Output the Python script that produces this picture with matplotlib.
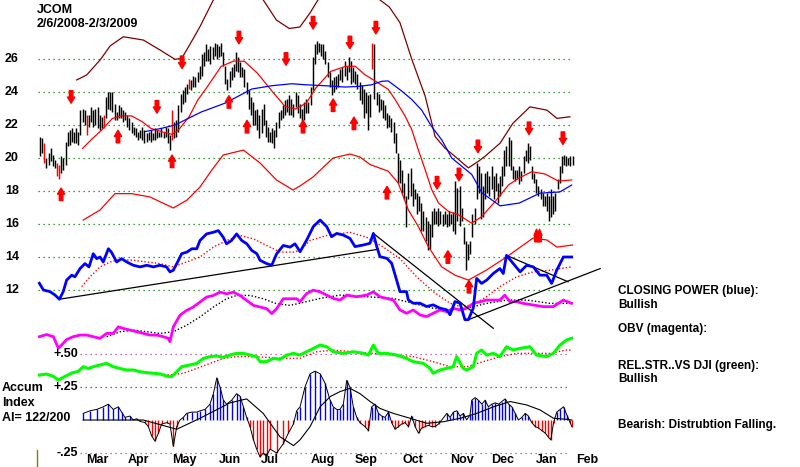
import numpy as np
import matplotlib
matplotlib.use("Agg")
import matplotlib.pyplot as plt
from matplotlib.transforms import blended_transform_factory
from matplotlib.lines import Line2D

# ---- daily price bars (trading day index 0 = 2/6/2008) ----
bar_high = [21.3, 21.2, 20.9, 20.0, 20.3, 20.6, 20.2, 19.9, 19.7, 19.6,
            20.1, 20.0, 21.0, 21.6, 21.7, 21.8, 21.6, 21.8, 21.6, 22.9,
            23.0, 22.9, 22.6, 22.6, 23.1, 22.9, 23.0, 23.1, 22.6, 22.5,
            22.6, 23.7, 24.0, 24.0, 24.0, 23.3, 22.8, 23.2, 23.1, 22.9,
            22.8, 22.6, 22.4, 22.2, 21.9, 21.8, 21.6, 21.7, 21.9, 21.7,
            21.5, 21.6, 21.7, 21.5, 21.8, 21.7, 21.6, 21.8, 21.6, 21.9,
            21.8, 21.4, 22.9, 22.2, 22.3, 23.2, 23.9, 24.1, 24.3, 24.5,
            24.8, 24.7, 25.0, 24.9, 25.2, 25.6, 26.3, 26.4, 26.9, 26.6,
            26.8, 26.7, 27.0, 26.9, 26.8, 27.0, 26.4, 25.6, 24.8, 25.3,
            25.5, 25.7, 26.4, 26.1, 25.8, 25.5, 25.4, 24.6, 24.1, 23.7,
            23.4, 22.9, 23.0, 22.6, 23.0, 23.3, 22.3, 21.9, 21.6, 21.8,
            21.7, 22.2, 22.8, 22.9, 23.2, 23.5, 23.6, 23.8, 23.6, 23.3,
            24.0, 23.8, 23.3, 23.0, 23.4, 23.6, 23.4, 24.3, 26.1, 26.9,
            27.1, 27.0, 26.9, 26.9, 26.5, 25.8, 25.2, 24.7, 24.9, 25.0,
            25.1, 25.4, 25.5, 25.9, 25.6, 26.1, 25.9, 25.5, 25.3, 25.1,
            24.6, 24.4, 24.2, 24.0, 23.8, 23.9, 27.0, 26.9, 24.0, 23.9,
            23.6, 23.5, 23.2, 22.7, 22.6, 22.4, 22.2, 21.5, 20.3, 19.9,
            19.3, 18.5, 17.7, 19.1, 19.4, 18.5, 18.1, 17.9, 17.7, 17.3,
            16.8, 16.4, 16.2, 16.0, 16.8, 17.0, 16.8, 17.0, 16.8, 16.6,
            16.8, 16.6, 16.8, 16.6, 16.7, 18.6, 18.2, 18.3, 17.0, 15.8,
            15.0, 14.8, 15.0, 16.6, 17.0, 19.7, 19.5, 19.1, 18.3, 19.1,
            19.2, 18.9, 19.5, 18.9, 19.1, 18.5, 18.9, 19.5, 20.5, 20.7,
            21.3, 21.1, 19.5, 19.3, 19.3, 19.5, 19.2, 20.1, 20.5, 20.9,
            20.7, 19.5, 19.1, 18.7, 18.3, 18.1, 17.9, 17.7, 17.9, 17.7,
            18.1, 17.7, 17.9, 18.7, 19.5, 20.1, 20.2, 20.1, 20.0, 20.1,
            20.1]
bar_low = [20.1, 20.3, 19.7, 19.4, 19.6, 19.8, 19.5, 19.4, 18.9, 18.7,
           19.1, 19.3, 19.6, 20.7, 20.8, 21.0, 20.9, 20.9, 20.8, 21.4,
           22.2, 22.0, 21.4, 21.9, 22.2, 21.9, 22.0, 21.8, 21.7, 21.8,
           21.8, 22.4, 23.0, 22.9, 22.8, 22.3, 22.3, 22.4, 22.4, 22.2,
           22.3, 21.9, 21.7, 21.5, 21.4, 21.3, 21.1, 21.2, 21.1, 20.9,
           21.0, 21.1, 21.0, 21.1, 21.1, 21.2, 21.3, 21.3, 21.2, 21.3,
           20.9, 20.5, 21.1, 21.2, 21.3, 21.6, 22.8, 23.3, 23.4, 23.9,
           24.2, 24.1, 24.3, 24.3, 24.6, 24.8, 25.0, 25.6, 25.9, 25.9,
           25.7, 26.0, 26.2, 26.0, 26.1, 26.2, 25.6, 24.5, 24.1, 24.3,
           24.7, 24.9, 25.3, 25.2, 24.9, 24.9, 24.3, 23.9, 23.0, 22.6,
           22.0, 22.0, 21.7, 21.2, 21.5, 22.0, 21.3, 21.0, 21.0, 20.9,
           20.6, 21.3, 21.8, 22.3, 22.4, 22.6, 22.8, 22.6, 22.6, 22.5,
           23.1, 22.7, 22.4, 22.2, 22.3, 22.7, 22.7, 23.2, 24.1, 25.7,
           26.3, 26.4, 26.2, 26.0, 25.7, 24.9, 24.3, 23.8, 24.0, 24.2,
           24.3, 24.7, 24.6, 25.0, 24.7, 25.2, 24.5, 24.6, 24.5, 24.2,
           23.5, 23.3, 22.4, 22.7, 21.7, 22.5, 25.4, 23.6, 23.2, 22.8,
           22.9, 22.4, 22.3, 21.8, 21.9, 21.6, 20.9, 20.3, 18.5, 18.5,
           17.9, 17.5, 15.8, 17.5, 17.7, 17.1, 17.5, 16.6, 16.8, 15.6,
           15.6, 15.0, 14.4, 14.5, 15.2, 16.0, 16.0, 15.9, 16.0, 15.9,
           16.0, 15.8, 15.9, 16.0, 15.6, 15.4, 16.2, 15.9, 16.2, 14.8,
           13.2, 13.8, 14.2, 15.2, 16.0, 17.5, 17.9, 16.3, 16.4, 17.5,
           17.9, 17.7, 18.1, 17.5, 18.0, 17.3, 17.7, 18.3, 18.9, 19.5,
           19.5, 19.3, 18.7, 18.6, 18.7, 18.4, 18.6, 19.1, 19.8, 19.7,
           19.9, 18.7, 18.5, 17.9, 17.7, 17.5, 17.1, 17.1, 16.8, 16.2,
           16.4, 16.6, 16.8, 18.1, 18.5, 19.1, 19.6, 19.5, 19.6, 19.5,
           19.6]
red_bar_days = [2, 8, 9, 22, 30, 62, 70, 156]

# ---- price overlays: (day, price) ----
upper_band = [(17.2, 24.73), (21.9, 25.03), (28.2, 25.94), (33, 26.8), (39.1, 27.35),
              (48.5, 27.15), (56.3, 26.55), (63.4, 25.98), (66.5, 26.04), (70, 26.8),
              (75.1, 27.96), (81.4, 29.58), (86, 30.6), (95, 31.0), (104.8, 29.58),
              (111, 28.36), (117, 27.85), (122, 27.94), (126.8, 28.8), (130.5, 29.58),
              (135, 30.6), (155, 30.6), (159.6, 29.58), (164, 29.15), (169, 28.2),
              (174.5, 26.0), (180.8, 23.76), (185.5, 21.3), (190.1, 20.6), (194.8, 20.1),
              (201.1, 19.4), (205.8, 19.8), (208.9, 20.1), (216, 20.9), (222, 22.1),
              (230, 23.1), (238, 22.9), (242.7, 22.4), (248.8, 22.5)]
lower_band = [(20.3, 16.24), (28.2, 16.85), (35.2, 17.84), (43, 17.84), (51.6, 17.64),
              (62.6, 16.97), (69, 17.45), (75.1, 18.24), (80.6, 19.26), (86, 20.18),
              (95.5, 20.48), (103.3, 19.7), (111, 18.67), (118.8, 18.06), (122, 18.3),
              (128.2, 18.85), (137.6, 20.0), (145.5, 20.24), (150.2, 20.06), (155, 19.6),
              (163.5, 19.2), (168.2, 18.48), (172.9, 16.86), (177.6, 15.85), (182.3, 14.63),
              (188.5, 13.41), (194.8, 12.9), (201.1, 12.6), (209.5, 13.2), (219, 14.0),
              (231.5, 15.15), (238, 15.03), (242.7, 14.6), (250, 14.73)]
red_ma = [(20, 20.58), (24, 21.1), (29, 21.7), (34, 22.4), (38, 22.55), (43, 22.55),
          (48, 22.2), (52, 21.8), (57, 21.6), (62, 21.43), (65, 21.7), (70, 22.5),
          (74, 23.5), (79, 24.4), (85, 25.55), (91, 25.88), (96, 25.86), (102, 25.15),
          (109, 24.04), (115, 23.13), (120, 22.97), (125, 23.33), (129.5, 24.24),
          (136.5, 25.25), (143.5, 25.56), (148, 25.56), (152.5, 25.05), (157.3, 24.67),
          (163.5, 24.16), (166.7, 23.55), (171.4, 22.54), (174.5, 21.73), (177.6, 20.5),
          (180.8, 19.3), (183.9, 18.08), (187.1, 17.27), (191.8, 16.76), (196.4, 16.56),
          (202.7, 16.05), (207.4, 16.45), (213.6, 17.35), (219.9, 18.36), (224.6, 18.77),
          (230.9, 19.17), (237.1, 19.03), (243.4, 18.6), (249.6, 18.67)]
blue_ma = [(49.3, 21.6), (57.1, 21.8), (63.4, 22.0), (69.6, 22.4), (75.9, 22.8),
           (82.2, 23.1), (87, 23.33), (93, 23.74), (99.4, 24.18), (108.8, 24.38),
           (118.2, 24.5), (124.5, 24.44), (133.9, 24.38), (143.3, 24.3), (149.5, 24.34),
           (155.8, 24.44), (160.4, 24.65), (163.5, 24.67), (169.8, 24.06), (174.5, 23.55),
           (179.2, 22.9), (183.9, 21.9), (188.6, 21.1), (193.3, 20.0), (198, 19.5),
           (202.7, 19.0), (207.4, 17.9), (216, 17.1), (225, 17.27), (234.7, 17.87),
           (244, 17.94), (249.6, 18.36)]

down_arrows = [(14.6, 23.7), (54.9, 23.1), (66.7, 25.8), (93.4, 27.3), (115.5, 26.0),
               (128.2, 28.2), (145.5, 27.0), (157.7, 27.9), (186.4, 18.5), (196.7, 19.0),
               (205.6, 20.7), (229.6, 21.8), (245.5, 21.2)]
up_arrows = [(9.9, 17.8), (36.6, 21.3), (62, 19.8), (88.7, 23.4), (97.2, 21.9),
             (123.5, 21.9), (137.6, 23.2), (147.4, 22.1), (162.9, 17.9), (191.5, 14.0),
             (201.4, 12.2)]
double_up_arrows = [(233.8, 15.3)]

# ---- closing power (blue) and OBV (magenta), drawn on the price scale ----
closing_power = [(-0.3, 12.41), (1.6, 12.0), (4.7, 11.9), (7, 11.7), (9.1, 11.44), (10.9, 11.9),
                 (12.5, 12.6), (14.9, 12.9), (16.4, 12.8), (18.8, 13.3), (21.1, 13.6), (23, 13.4),
                 (25, 14.2), (26.6, 13.9), (28.2, 14.0), (29.7, 13.7), (32.1, 14.5), (33.5, 14.3),
                 (36, 13.7), (38.3, 13.9), (40.7, 13.7), (43.8, 13.5), (47, 13.4), (50.1, 13.5),
                 (53.2, 13.4), (56.3, 13.5), (59.4, 13.4), (61, 13.1), (62.6, 13.2), (65, 13.8),
                 (66.5, 14.2), (69, 14.3), (71.3, 14.5), (73.6, 14.5), (75.1, 15.0), (78.2, 15.4),
                 (81.4, 15.5), (83.7, 15.6), (86, 15.2), (87.6, 14.8), (89.9, 15.0), (92.3, 15.4),
                 (94.7, 15.0), (97.1, 14.8), (99.4, 14.4), (101.8, 14.2), (103.3, 13.8),
                 (106.4, 13.6), (108.8, 13.5), (111.1, 14.2), (114.2, 14.7), (117.4, 14.6),
                 (119.7, 14.8), (122.1, 14.32), (125.2, 15.03), (128.3, 15.84), (131.5, 16.24),
                 (134.6, 15.84), (136.9, 15.23), (139.3, 15.43), (142.4, 15.33), (145.5, 15.13),
                 (147.9, 14.63), (151.8, 14.73), (154.9, 14.83), (156.5, 15.43), (158.1, 14.63),
                 (159.6, 14.02), (162.8, 13.92), (165.1, 13.62), (167.4, 12.61), (169, 11.9),
                 (172.1, 11.9), (172.9, 11.4), (175.2, 11.2), (178.4, 11.2), (181.5, 11.0),
                 (184.6, 11.1), (187.8, 10.9), (190.9, 10.8), (192.5, 10.5), (194.8, 11.3),
                 (197.2, 11.2), (199.5, 10.2), (201.1, 10.2), (203.4, 10.9), (205, 12.7),
                 (207.3, 12.4), (209.7, 12.6), (212.8, 13.0), (215.9, 13.3), (217.5, 13.0),
                 (219, 14.1), (222.2, 13.6), (225.4, 13.1), (228.5, 13.5), (231.6, 13.4),
                 (234.7, 12.9), (237.9, 12.9), (240.2, 12.4), (242.6, 13.2), (245.7, 14.0),
                 (249.6, 14.0)]
closing_power_ma = [(19.6, 12.2), (23.5, 12.8), (28.2, 13.4), (32.9, 13.7), (37.6, 13.85),
                    (43.8, 13.8), (50.1, 13.7), (56.3, 13.6), (62.6, 13.4), (68.9, 13.7),
                    (75.1, 14.0), (81.4, 14.6), (87.6, 15.0), (93.9, 15.3), (100.2, 15.1),
                    (106.4, 14.7), (112.7, 14.3), (119, 14.3), (122, 14.4), (126.8, 15.0),
                    (134.6, 15.3), (145.5, 15.5), (153.3, 15.2), (161.2, 14.6), (169, 13.9),
                    (176.8, 12.8), (184.6, 11.9), (192.5, 11.2), (197.2, 11.0), (203.4, 11.1),
                    (209.7, 11.6), (215.9, 12.2), (223.8, 12.8), (231.6, 13.1), (239.4, 13.2),
                    (244.1, 13.3), (249.6, 13.4)]
obv = [(-0.3, 9.17), (3.1, 9.3), (6.3, 9.17), (8.6, 8.47), (10.2, 8.67), (12.5, 9.0),
       (15.6, 9.17), (18.8, 9.27), (21.9, 9.27), (25, 9.17), (28.2, 9.07), (31.3, 9.37),
       (34.4, 9.37), (36.8, 9.77), (39.1, 9.67), (42.3, 9.57), (45.4, 9.47), (48.5, 9.37),
       (51.6, 9.27), (54.8, 9.27), (57.9, 9.17), (60.3, 9.07), (61, 8.87), (62.6, 9.77),
       (65.7, 10.47), (68.9, 10.77), (72, 10.97), (75.1, 11.27), (78.2, 11.57), (81.4, 11.67),
       (84.5, 11.87), (87.6, 11.77), (90.8, 11.87), (93.9, 11.67), (97, 11.37), (100.2, 11.07),
       (103.3, 10.97), (106.4, 10.87), (108.8, 10.57), (111.1, 10.87), (114.2, 11.47),
       (117.4, 11.47), (120.5, 11.47), (122.1, 11.29), (125.2, 11.79), (128.3, 11.99),
       (131.5, 11.89), (134.6, 11.69), (137.7, 11.49), (140.8, 11.39), (144, 11.69),
       (148.6, 11.59), (153.3, 11.69), (156.5, 11.89), (159.6, 11.59), (162.8, 11.49),
       (165.9, 11.39), (169, 10.79), (172.1, 10.59), (175.2, 10.79), (178.4, 10.49),
       (181.5, 10.39), (184.6, 10.59), (187.8, 10.79), (190.9, 10.69), (194, 10.89),
       (197.2, 10.79), (200.3, 10.89), (203.4, 11.19), (206.6, 11.29), (209.7, 11.39),
       (212.8, 11.39), (215.9, 11.39), (218.2, 11.69), (220.6, 11.29), (223.8, 11.29),
       (226.9, 11.19), (231.6, 11.09), (236.3, 10.99), (241, 10.99), (245.7, 11.39),
       (249.6, 11.19)]
obv_ma = [(31.3, 9.17), (37.6, 9.47), (43.8, 9.57), (50.1, 9.47), (56.3, 9.37), (62.6, 9.47),
          (68.9, 9.87), (75.1, 10.37), (81.4, 10.97), (87.6, 11.47), (92.3, 11.67), (98.6, 11.67),
          (104.8, 11.47), (111.1, 11.17), (117.4, 11.07), (122, 11.2), (131.5, 11.49),
          (140.8, 11.69), (153.3, 11.59), (165.9, 11.49), (175.2, 11.19), (184.6, 10.89),
          (192.5, 10.79), (200.3, 10.89), (209.7, 11.19), (219.1, 11.39), (228.5, 11.39),
          (239.4, 11.19), (249.6, 11.19)]
trend_lines = [((9.1, 11.44), (158.8, 14.47)), ((156.5, 15.43), (212.8, 9.68)),
               ((201.1, 10.2), (263, 13.3)), ((219, 14.1), (247.9, 12.5))]

# ---- relative strength (green) and accumulation index, lower scale ----
rel_strength = [(-0.3, 0.341), (3.1, 0.348), (6.3, 0.33), (8.6, 0.303), (11.7, 0.33), (14.9, 0.356),
                (18, 0.369), (20.3, 0.404), (22.7, 0.39), (25, 0.404), (28.2, 0.417), (31.3, 0.429),
                (34.4, 0.404), (37.6, 0.39), (40.7, 0.379), (43.8, 0.379), (47, 0.366), (50.1, 0.358),
                (53.2, 0.354), (56.3, 0.349), (59.4, 0.333), (61.8, 0.328), (64.2, 0.366), (66.5, 0.404),
                (70.4, 0.417), (73.6, 0.429), (76.7, 0.467), (79.8, 0.48), (83, 0.485), (86.1, 0.475),
                (89.2, 0.492), (92.3, 0.505), (95.5, 0.505), (98.6, 0.492), (101.7, 0.48), (103.3, 0.442),
                (106.4, 0.442), (109.5, 0.467), (112.7, 0.46), (115.8, 0.492), (119, 0.505), (122, 0.492),
                (126.8, 0.53), (131.5, 0.568), (134.6, 0.555), (137.7, 0.517), (142.4, 0.505),
                (147.1, 0.517), (151.8, 0.505), (154.2, 0.492), (156.5, 0.568), (158.8, 0.505),
                (162.8, 0.505), (167.4, 0.492), (172.1, 0.467), (175.2, 0.442), (179.9, 0.429),
                (183.1, 0.391), (184.6, 0.354), (187.8, 0.379), (190.9, 0.391), (194, 0.404),
                (195.6, 0.48), (198.7, 0.391), (200.3, 0.379), (203.4, 0.404), (205, 0.505),
                (207.3, 0.53), (209.7, 0.492), (212.8, 0.505), (215.9, 0.48), (219, 0.555),
                (222.2, 0.53), (225.4, 0.543), (230, 0.555), (233.1, 0.492), (237.9, 0.48),
                (241, 0.505), (244.1, 0.568), (247.2, 0.606), (249.6, 0.619)]
rel_strength_ma = [(48.5, 0.366), (54.8, 0.354), (61, 0.341), (67.3, 0.354), (73.6, 0.391),
                   (79.8, 0.429), (86.1, 0.467), (92.3, 0.48), (98.6, 0.48), (106.4, 0.475),
                   (114.2, 0.467), (122, 0.467), (129.9, 0.517), (137.7, 0.53), (147.1, 0.517),
                   (156.5, 0.505), (165.9, 0.492), (175.2, 0.48), (184.6, 0.442), (192.5, 0.404),
                   (200.3, 0.404), (208.1, 0.442), (215.9, 0.48), (223.8, 0.505), (231.6, 0.505),
                   (239.4, 0.505), (247.2, 0.53), (249.6, 0.53)]
accum_index = [(20.3, 0.05), (23.5, 0.07), (26.6, 0.08), (29.7, 0.1), (32.1, 0.12), (34.4, 0.08),
               (36.8, 0.1), (38.3, 0.06), (39.9, 0.02), (42.2, 0.03), (43.8, 0.0), (45.4, 0.01),
               (46.9, -0.01), (49.3, -0.02), (50.9, -0.05), (52.4, -0.12), (54, -0.16), (55.6, -0.1),
               (57.1, -0.03), (59.5, -0.02), (61, -0.03), (62.6, -0.2), (64.2, -0.05), (65.7, 0.0),
               (67.3, 0.02), (68.8, 0.05), (71.2, 0.06), (73.6, 0.06), (75.1, 0.07), (77.5, 0.08),
               (79.8, 0.12), (81.4, 0.2), (83, 0.32), (84.5, 0.25), (86.1, 0.15), (87.6, 0.12),
               (90, 0.15), (92.3, 0.2), (93.9, 0.18), (95.5, 0.1), (97, 0.02), (98.6, -0.05),
               (100.2, -0.15), (101.7, -0.22), (103.3, -0.28), (104.8, -0.25), (106.4, -0.27),
               (108, -0.22), (111.1, -0.25), (114.2, -0.18), (116.6, -0.1), (119, -0.03),
               (120.5, 0.07), (122.1, 0.1), (124.4, 0.25), (126.8, 0.35), (129.1, 0.37),
               (131.5, 0.35), (133.8, 0.28), (136.2, 0.15), (137.7, 0.1), (139.3, 0.08),
               (140.8, 0.08), (142.4, 0.12), (144, 0.3), (145.5, 0.25), (147.1, 0.1), (148.7, 0.02),
               (150.2, -0.02), (152.6, -0.05), (154.2, -0.08), (155.7, 0.1), (157.3, 0.12),
               (158.9, 0.05), (160.4, 0.03), (162, 0.02), (163.6, 0.06), (165.1, -0.02),
               (166.7, -0.07), (168.3, -0.05), (169.8, -0.03), (171.4, -0.02), (173, -0.05),
               (174.5, 0.03), (176.1, -0.05), (177.7, -0.1), (179.2, -0.06), (180.8, -0.05),
               (182.4, -0.04), (183.9, -0.05), (185.5, -0.05), (187.1, -0.03), (188.6, 0.0),
               (191, 0.05), (192.5, 0.02), (194.1, 0.06), (195.7, 0.07), (197.2, 0.03),
               (198.8, 0.05), (200.3, 0.0), (201.9, 0.04), (202.7, 0.15), (204.3, 0.17),
               (205.8, 0.15), (207.4, 0.12), (209, 0.15), (210.5, 0.1), (212.1, 0.12),
               (213.7, 0.13), (215.3, 0.12), (216.8, 0.14), (218.4, 0.16), (220, 0.12),
               (221.5, 0.1), (223.1, 0.05), (224.6, 0.0), (226.2, 0.02), (227.8, 0.05),
               (229.3, 0.03), (230.9, -0.02), (232.5, -0.05), (234, -0.06), (235.6, -0.08),
               (237.2, -0.1), (238.7, -0.13), (239.8, -0.15), (241.1, -0.02), (242.6, 0.06),
               (244.2, 0.08), (245.8, 0.1), (247.3, 0.04), (248.9, -0.02), (249.7, -0.05)]
accum_ma = [(20.3, 0.0), (48.5, 0.0), (64.2, -0.07), (75.1, 0.013), (89.2, 0.13), (97, 0.16),
            (104.8, 0.05), (112.6, -0.126), (119, -0.194), (122.1, -0.15), (126.8, -0.05),
            (131.5, 0.1), (136.2, 0.177), (140.8, 0.215), (145.5, 0.24), (150.2, 0.2), (155, 0.14),
            (159.6, 0.088), (165.9, 0.05), (173.8, 0.013), (181.6, -0.025), (189.4, -0.013),
            (197.2, 0.013), (205, 0.05), (212.9, 0.1), (220.7, 0.14), (228.5, 0.114),
            (234.8, 0.076), (241.1, 0.013), (247.3, 0.005), (249.7, 0.0)]

price_ticks = [12, 14, 16, 18, 20, 22, 24, 26]
lower_ticks = [0.50, 0.25, -0.25]
lower_tick_labels = ["+.50", "+.25", "-.25"]
month_labels = ["Mar", "Apr", "May", "Jun", "Jul", "Aug", "Sep", "Oct", "Nov", "Dec", "Jan", "Feb"]
month_days = [27, 46, 68, 89, 108, 133, 153, 175, 198, 217, 238, 257]
side_notes = [("CLOSING POWER (blue):", 291), ("Bullish", 305), ("OBV (magenta):", 329),
              ("REL.STR..VS DJI (green):", 366), ("Bullish", 379),
              ("Bearish: Distrubtion Falling.", 425)]

FONT = ["Liberation Sans", "DejaVu Sans"]

W, H = 800, 467
fig = plt.figure(figsize=(W / 100, H / 100), dpi=100)
fig.patch.set_facecolor("white")
ax = fig.add_axes([0, 0, 1, 1])
ax2 = fig.add_axes([0, 0, 1, 1])
for a in (ax, ax2):
    a.set_xlim(-18.78, 356.8)
    a.axis("off")
ax2.patch.set_alpha(0)
ax.set_ylim(1.273, 29.576)
ax2.set_ylim(-0.356, 3.182)


def xy(pairs):
    arr = np.array(pairs, dtype=float)
    return arr[:, 0], arr[:, 1]


# grid
ax.hlines(price_ticks, -1, 250, colors="#008000", linestyles=(0, (1, 3)), lw=0.9)
ax2.hlines(lower_ticks, 18.8, 249, colors=["#b040b0", "#404040", "#b040b0"],
           linestyles=(0, (1, 3)), lw=0.9)

# price bars
days = np.arange(len(bar_high))
colors = ["red" if d in red_bar_days else "black" for d in days]
ax.vlines(days, bar_low, bar_high, colors=colors, lw=1.05, zorder=3)

# bands and averages
for pairs, col in [(upper_band, "#800000"), (lower_band, "red"), (red_ma, "red"), (blue_ma, "blue")]:
    x, y = xy(pairs)
    ax.plot(x, y, color=col, lw=0.9, zorder=4)


# signal arrows
def arrow(x, y, down, dx=0.0, w=0.65):
    half = 0.38
    tip, tail = (y - half, y + half) if down else (y + half, y - half)
    ax.annotate("", xy=(x + dx, tip), xytext=(x + dx, tail),
                arrowprops=dict(arrowstyle=f"simple,head_length=0.55,head_width={w},tail_width=0.32",
                                color="red", mutation_scale=8, shrinkA=0, shrinkB=0), zorder=5)


for x, y in down_arrows:
    arrow(x, y, True)
for x, y in up_arrows:
    arrow(x, y, False)
for x, y in double_up_arrows:
    arrow(x, y, False, dx=-0.7, w=0.45)
    arrow(x, y, False, dx=0.7, w=0.45)

# closing power, OBV
x, y = xy(closing_power_ma)
ax.plot(x, y, color="red", lw=1.0, ls=(0, (1, 1.5)), zorder=4)
x, y = xy(obv_ma)
ax.plot(x, y, color="black", lw=1.0, ls=(0, (1, 1.5)), zorder=4)
x, y = xy(obv)
ax.plot(x, y, color="#ff00ff", lw=2.0, zorder=5)
for p0, p1 in trend_lines:
    ax.plot([p0[0], p1[0]], [p0[1], p1[1]], color="black", lw=0.9, zorder=5)
x, y = xy(closing_power)
ax.plot(x, y, color="#0000ff", lw=2.0, zorder=6)

# relative strength
x, y = xy(rel_strength_ma)
ax2.plot(x, y, color="red", lw=1.0, ls=(0, (1, 1.5)), zorder=4)
x, y = xy(rel_strength)
ax2.plot(x, y, color="#00ff00", lw=2.2, zorder=5)

# accumulation index
x, y = xy(accum_index)
pos = y >= 0
ax2.vlines(x[pos], 0, y[pos], colors="blue", lw=1.0, zorder=3)
ax2.vlines(x[~pos], 0, y[~pos], colors="red", lw=1.0, zorder=3)
ax2.plot(x, y, color="black", lw=0.7, zorder=4)
x, y = xy(accum_ma)
ax2.plot(x, y, color="black", lw=0.8, zorder=4)

# labels
tf = blended_transform_factory(fig.transFigure, ax.transData)
for t in price_ticks:
    ax.text(5 / W, t, str(t), transform=tf, ha="left", va="center",
            fontsize=9, fontweight="bold", family=FONT)
tf2 = blended_transform_factory(fig.transFigure, ax2.transData)
for v, lab in zip(lower_ticks, lower_tick_labels):
    ax2.text(78 / W, v, lab, transform=tf2, ha="right", va="center",
             fontsize=9, fontweight="bold", family=FONT)
for d, lab in zip(month_days, month_labels):
    ax2.text(d, (420 - 460) / 132, lab, ha="center", va="center",
             fontsize=9, fontweight="bold", family=FONT)

fig.text(37 / W, 1 - 10 / H, "JCOM", ha="left", va="center", fontsize=9, fontweight="bold", family=FONT)
fig.text(37 / W, 1 - 24 / H, "2/6/2008-2/3/2009", ha="left", va="center", fontsize=9,
         fontweight="bold", family=FONT)
for i, s in enumerate(["Accum", "Index", "AI= 122/200"]):
    fig.text(2 / W, 1 - (388 + 15 * i) / H, s, ha="left", va="center", fontsize=9,
             fontweight="bold", family=FONT)
for s, yy in side_notes:
    fig.text(618 / W, 1 - yy / H, s, ha="left", va="center", fontsize=8.5,
             fontweight="bold", family=FONT)

fig.add_artist(Line2D([37 / W, 37 / W], [0, 17 / H], color="#808000", lw=1))

fig.savefig("out.png", dpi=100, facecolor="white")
